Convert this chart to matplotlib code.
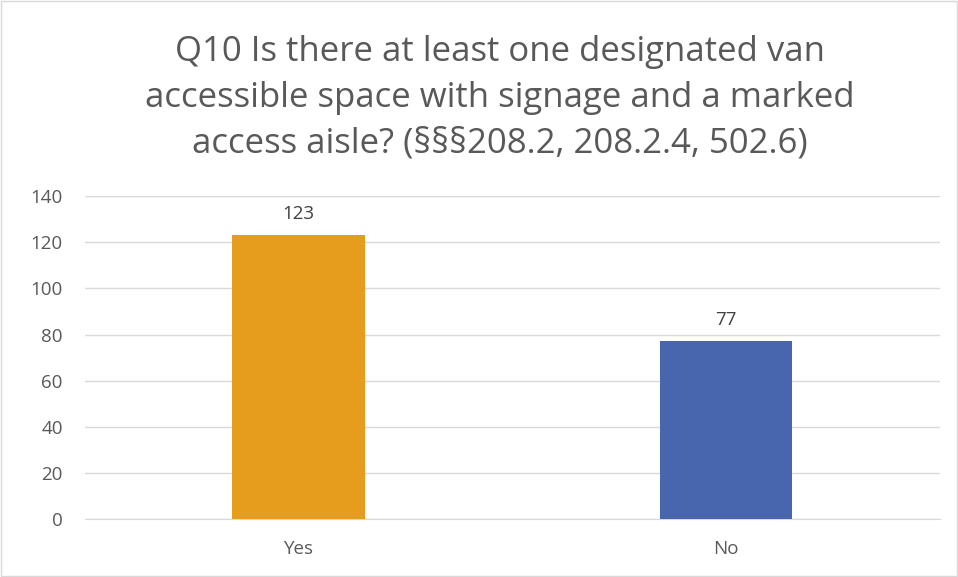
import matplotlib.pyplot as plt

categories = ["Yes", "No"]
counts = [123, 77]
bar_colors = ["#E69C1C", "#4866AD"]
y_ticks = [0, 20, 40, 60, 80, 100, 120, 140]
title = ("Q10 Is there at least one designated van\n"
         "accessible space with signage and a marked\n"
         "access aisle? (§§§208.2, 208.2.4, 502.6)")

plt.rcParams['font.family'] = ['Open Sans', 'DejaVu Sans']

fig = plt.figure(figsize=(9.58, 5.77), dpi=100)
ax = fig.add_axes([0.0887, 0.1005, 0.8923, 0.5595])

x = range(len(categories))
bars = ax.bar(x, counts, width=0.31, color=bar_colors, zorder=3)
for b, v in zip(bars, counts):
    ax.text(b.get_x() + b.get_width() / 2, v + 5.5, str(v), ha='center', va='bottom',
            fontsize=13.5, color='#404040')

ax.set_xlim(-0.5, 1.5)
ax.set_ylim(0, 140)
ax.set_yticks(y_ticks)
ax.set_xticks(list(x))
ax.set_xticklabels(categories)
ax.yaxis.grid(True, color='#D9D9D9', linewidth=1, zorder=0)
for s in ['top', 'right', 'left']:
    ax.spines[s].set_visible(False)
ax.spines['bottom'].set_color('#D9D9D9')
ax.tick_params(axis='both', length=0, labelsize=13.5, labelcolor='#595959')
ax.tick_params(axis='y', pad=16)
ax.tick_params(axis='x', pad=15)

fig.text(0.522, 0.830, title, ha='center', va='center', fontsize=25,
         color='#595959', linespacing=1.45)

fig.patches.append(plt.Rectangle((0.001, 0.001), 0.998, 0.998, transform=fig.transFigure,
                                 fill=False, edgecolor='#D9D9D9', linewidth=1))

fig.savefig('out.png', dpi=100)
